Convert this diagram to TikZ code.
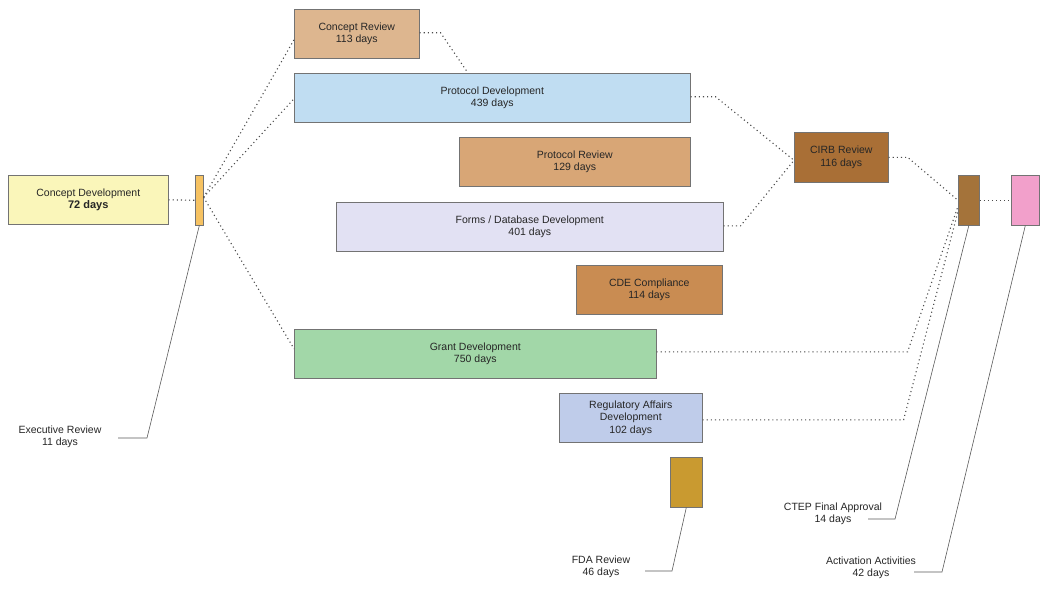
\documentclass[tikz,border=0pt]{standalone}
\usepackage{fontspec}
\setmainfont{Liberation Sans}
\usetikzlibrary{calc}
\begin{document}
\begin{tikzpicture}[x=1pt,y=-1pt,
  box/.style={draw=black!55, line width=0.6pt, inner sep=0pt, align=center,
    font=\fontsize{10.5}{12.5}\selectfont, text=black!85, anchor=north west},
  dotline/.style={line width=1.1pt, black!70, dash pattern=on 1.1pt off 3pt},
  callout/.style={draw=black!65, line width=0.6pt},
  lbl/.style={align=center, font=\fontsize{10.5}{12.5}\selectfont, text=black!85, inner sep=1pt}]
\useasboundingbox (0,0) rectangle (1050,594);
\definecolor{cdev}{HTML}{FAF6BA}
\definecolor{exrev}{HTML}{F6C262}
\definecolor{crev}{HTML}{DDB68F}
\definecolor{pdev}{HTML}{C0DDF2}
\definecolor{prev}{HTML}{D8A676}
\definecolor{fdev}{HTML}{E2E1F3}
\definecolor{cde}{HTML}{C98C52}
\definecolor{grant}{HTML}{A2D7A8}
\definecolor{reg}{HTML}{BFCCEA}
\definecolor{fda}{HTML}{C99A30}
\definecolor{cirb}{HTML}{A96F36}
\definecolor{ctep}{HTML}{A4733A}
\definecolor{act}{HTML}{F2A0CB}

% boxes
\node[box, fill=cdev, minimum width=160, minimum height=49] (cd) at (8,175)
  {Concept Development\\{\fontsize{11}{13}\selectfont\bfseries 72 days}};
\node[box, fill=exrev, minimum width=8, minimum height=50] (er) at (195,175) {};
\node[box, fill=crev, minimum width=125, minimum height=49] (cr) at (294,9) {Concept Review\\113 days};
\node[box, fill=pdev, minimum width=396, minimum height=49] (pd) at (294,73) {Protocol Development\\439 days};
\node[box, fill=prev, minimum width=231, minimum height=49] (pr) at (459,137) {Protocol Review\\129 days};
\node[box, fill=fdev, minimum width=387, minimum height=49] (fd) at (336,202) {Forms / Database Development\\401 days};
\node[box, fill=cde, minimum width=146, minimum height=49] (cc) at (576,265) {CDE Compliance\\114 days};
\node[box, fill=grant, minimum width=362, minimum height=49] (gd) at (294,329) {Grant Development\\750 days};
\node[box, fill=reg, minimum width=143, minimum height=49] (ra) at (559,393) {Regulatory Affairs\\Development\\102 days};
\node[box, fill=fda, minimum width=32, minimum height=50] (fr) at (670,457) {};
\node[box, fill=cirb, minimum width=94, minimum height=50] (cirbn) at (794,132) {CIRB Review\\116 days};
\node[box, fill=ctep, minimum width=21, minimum height=50] (ct) at (958,175) {};
\node[box, fill=act, minimum width=28, minimum height=50] (aa) at (1011,175) {};

% labels
\node[lbl] (erl) at (60,437) {Executive Review\\11 days};
\node[lbl] (frl) at (601,567) {FDA Review\\46 days};
\node[lbl] (ctl) at (833,514) {CTEP Final Approval\\14 days};
\node[lbl] (aal) at (871,568) {Activation Activities\\42 days};

% coordinates
\coordinate (erO) at ($(er.east)+(0,-3)$);
\coordinate (crL) at ($(cr.west)+(0,6)$);
\coordinate (pdL) at ($(pd.west)+(0,1)$);
\coordinate (gdL) at ($(gd.west)+(0,-5)$);
\coordinate (crR) at ($(cr.east)+(0,-1)$);
\coordinate (crH) at ($(crR)+(21,0)$);
\coordinate (pdT) at (468,73);
\coordinate (pdR) at ($(pd.east)+(0,-1)$);
\coordinate (pdH) at ($(pdR)+(25,0)$);
\coordinate (fdR) at ($(fd.east)+(0,-1)$);
\coordinate (fdH) at ($(fdR)+(17,0)$);
\coordinate (cirbL) at ($(cirbn.west)+(0,3)$);
\coordinate (cirbH) at ($(cirbn.east)+(19,0)$);
\coordinate (gdR) at ($(gd.east)+(0,-2)$);
\coordinate (gdH) at ($(gdR)+(251,0)$);
\coordinate (raR) at ($(ra.east)+(0,2)$);
\coordinate (raH) at ($(raR)+(201,0)$);
\coordinate (ctL1) at ($(ct.west)+(0,0)$);
\coordinate (ctL2) at ($(ct.west)+(0,6)$);
\coordinate (ctL3) at ($(ct.west)+(0,11)$);

% dotted connectors
\draw[dotline] (cd.east) -- (er.west);
\draw[dotline] (erO) -- (crL);
\draw[dotline] (erO) -- (pdL);
\draw[dotline] (erO) -- (gdL);
\draw[dotline] (crR) -- (crH) -- (pdT);
\draw[dotline] (pdR) -- (pdH) -- (cirbL);
\draw[dotline] (fdR) -- (fdH) -- (cirbL);
\draw[dotline] (cirbn.east) -- (cirbH) -- (ctL1);
\draw[dotline] (gdR) -- (gdH) -- (ctL2);
\draw[dotline] (raR) -- (raH) -- (ctL3);
\draw[dotline] (ct.east) -- (aa.west);

% callouts
\coordinate (erK) at (147,438);
\coordinate (frK) at (672,571);
\coordinate (ctK) at (895,519);
\coordinate (aaK) at (942,572);
\draw[callout] (er.south) -- (erK) -- ($(erK)+(-29,0)$);
\draw[callout] (fr.south) -- (frK) -- ($(frK)+(-27,0)$);
\draw[callout] (ct.south) -- (ctK) -- ($(ctK)+(-27,0)$);
\draw[callout] (aa.south) -- (aaK) -- ($(aaK)+(-28,0)$);
\end{tikzpicture}
\end{document}
